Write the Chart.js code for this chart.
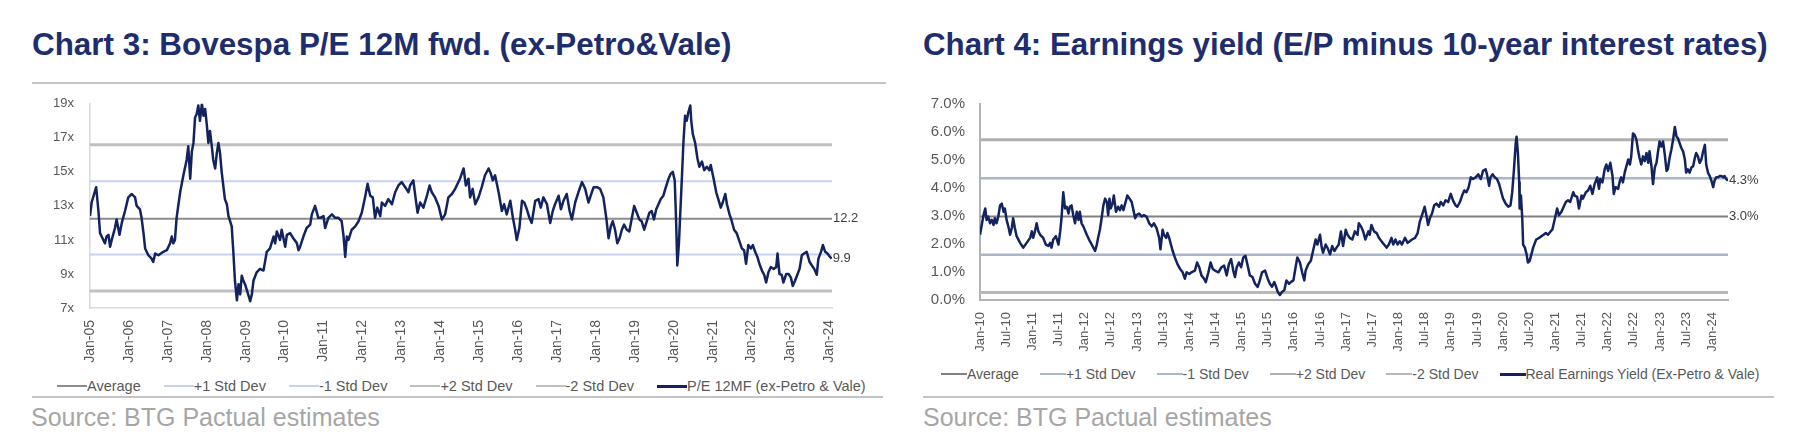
<!DOCTYPE html>
<html>
<head>
<meta charset="utf-8">
<title>Bovespa P/E and earnings yield</title>
<script src="https://cdn.jsdelivr.net/npm/chart.js@4.4.1/dist/chart.umd.min.js"></script>
<style>
  html, body { margin: 0; padding: 0; background: #fff; }
  body { width: 1806px; height: 444px; position: relative; overflow: hidden; font-family: "Liberation Sans", Arial, sans-serif; }
  .title { position: absolute; top: 29px; line-height: 31px; font-weight: bold; color: #1e2d6e; white-space: nowrap; }
  .rule { position: absolute; height: 2px; background: #c4c4c4; }
  .source { position: absolute; top: 405px; font-size: 25px; line-height: 25px; color: #a6a6a6; white-space: nowrap; }
  .box { position: absolute; }
  .legend { position: absolute; display: flex; align-items: center; margin: 0; padding: 0; list-style: none; white-space: nowrap; color: #595959; line-height: 18px; }
  .legend li { display: flex; align-items: center; }
  .legend .swatch { display: inline-block; }
</style>
</head>
<body>
<div class="title" style="left:32px; font-size:31.4px">Chart 3: Bovespa P/E 12M fwd. (ex-Petro&amp;Vale)</div>
<div class="title" style="left:923px; font-size:31.3px">Chart 4: Earnings yield (E/P minus 10-year interest rates)</div>
<div class="rule" style="left:32px; top:82px; width:854px"></div>

<div class="box" style="left:32px; top:80px; width:854px; height:284px"><canvas id="peChart"></canvas></div>
<div class="box" style="left:923px; top:80px; width:851px; height:272px"><canvas id="eyChart"></canvas></div>

<ul class="legend" id="peLegend" style="left:57px; top:377px; font-size:14.5px"></ul>
<ul class="legend" id="eyLegend" style="left:941px; top:365px; font-size:14px"></ul>

<div class="rule" style="left:32px; top:396px; width:851px"></div>
<div class="rule" style="left:923px; top:396px; width:851px"></div>
<div class="source" style="left:31px">Source: BTG Pactual estimates</div>
<div class="source" style="left:923px">Source: BTG Pactual estimates</div>

<script>
// Chart 3 - P/E 12M fwd, x = months since Jan-05
const peMonths = [
  0, 0.5, 1.9, 2.6, 3.1, 3.6, 4.6, 5.1, 5.7, 6.2,
  6.7, 7.7, 8.2, 9.1, 9.8, 10.8, 11.8, 12.9, 13.9, 14.4,
  15.4, 15.9, 16.5, 17.0, 18.0, 19.0, 19.5, 20.1, 21.1, 22.6,
  23.7, 24.7, 25.2, 25.7, 26.2, 26.7, 27.8, 28.8, 29.8, 30.3,
  30.9, 31.4, 31.9, 32.4, 32.9, 33.4, 33.9, 34.5, 35.0, 35.5,
  36.0, 36.5, 37.0, 37.5, 38.0, 38.6, 39.1, 39.6, 40.1, 40.6,
  41.1, 41.6, 42.2, 42.7, 43.2, 43.7, 44.2, 44.7, 45.3, 45.8,
  46.3, 46.8, 47.3, 47.8, 48.3, 49.4, 49.9, 50.4, 51.4, 52.4,
  53.5, 54.5, 55.5, 56.6, 57.1, 57.6, 58.6, 59.1, 60.2, 60.7,
  61.7, 62.7, 63.8, 64.3, 64.8, 65.8, 66.8, 67.9, 68.4, 69.4, 70.4,
  71.0, 72.0, 72.5, 73.5, 74.6, 75.6, 76.6, 77.6, 78.2, 78.7,
  79.2, 79.7, 80.7, 81.8, 82.8, 83.8, 84.8, 85.6, 86.4, 87.2,
  87.9, 88.6, 89.5, 90.0, 91.0, 92.0, 93.1, 94.1, 95.1, 96.1,
  97.2, 98.2, 98.7, 99.7, 100.3, 101.0, 101.8, 102.8, 103.9, 104.7,
  105.4, 106.4, 107.5, 108.5, 109.5, 110.5, 111.6, 112.6, 113.6, 114.1,
  115.2, 115.9, 116.7, 117.2, 118.0, 118.8, 119.8, 120.8, 121.8, 122.9,
  123.6, 124.2, 124.9, 126.0, 127.0, 127.7, 128.5, 129.6, 130.4, 131.1,
  131.6, 132.4, 133.2, 133.9, 134.7, 135.5, 136.2, 137.3, 138.3, 139.0,
  139.8, 140.9, 141.9, 142.7, 143.4, 144.5, 145.2, 146.0, 147.0, 147.9,
  148.6, 149.6, 150.6, 151.7, 152.7, 153.7, 154.4, 155.3, 156.3,
  157.3, 158.3, 159.2, 159.9, 160.6, 161.2, 161.9, 162.6, 163.3, 164.0,
  164.7, 165.5, 166.3, 167.1, 167.8, 168.6, 169.4, 170.1, 170.9, 171.7,
  172.5, 173.2, 173.9, 174.6, 175.3, 176.0, 176.8, 177.4, 178.4, 179.1,
  179.7, 180.3, 180.7, 181.1, 181.6, 182.0, 182.5, 183.0, 183.5, 184.0,
  184.5, 185.1, 185.4, 185.9, 186.6, 187.3, 187.9, 188.7, 189.4, 190.2,
  191.0, 191.4, 192.3, 193.1, 193.9, 194.5, 195.1, 195.9, 196.4, 197.2,
  197.9, 198.6, 199.4, 200.3, 201.0, 201.7, 202.3, 203.0, 203.8, 204.4,
  205.1, 205.8, 206.4, 207.2, 207.9, 208.5, 209.2, 209.9, 210.8, 211.6,
  212.0, 212.6, 213.3, 213.8, 214.7, 215.4, 216.1, 216.7, 217.4, 218.2,
  218.8, 219.5, 220.2, 221.0, 221.9, 222.6, 223.3, 224.1, 224.6, 225.4,
  226.0, 226.7, 227.4, 228.2, 228.7
];
const peValues = [
  12.4, 13.2, 14.1, 12.7, 11.4, 11.2, 10.8, 11.2, 11.3, 10.6,
  11.0, 11.7, 12.2, 11.3, 12.0, 12.7, 13.5, 13.7, 13.5, 13.0,
  12.8, 12.3, 11.4, 10.5, 10.1, 9.9, 9.7, 10.2, 10.1, 10.3,
  10.4, 10.8, 11.2, 10.8, 11.0, 12.3, 13.8, 14.8, 15.7, 16.5,
  14.6, 16.2, 16.7, 18.2, 18.4, 18.9, 18.0, 19.0, 18.3, 18.7,
  17.8, 16.7, 17.4, 16.6, 15.7, 15.2, 16.1, 16.7, 16.1, 15.0,
  14.2, 13.4, 13.1, 12.4, 12.1, 11.8, 10.3, 8.6, 7.45, 8.4,
  7.8, 8.9, 8.6, 8.4, 8.1, 7.4, 7.8, 8.6, 9.1, 9.3,
  9.2, 10.3, 10.5, 11.2, 10.8, 11.5, 11.0, 11.6, 10.6, 11.3,
  11.4, 11.1, 10.8, 10.4, 10.6, 11.2, 11.7, 11.9, 12.5, 13.0, 12.3,
  12.3, 12.4, 11.7, 12.3, 12.5, 12.3, 12.3, 12.1, 11.2, 10.0,
  11.2, 11.0, 11.6, 11.8, 12.1, 12.6, 13.5, 14.3, 13.6, 13.5,
  12.3, 12.9, 12.4, 13.2, 13.0, 13.4, 13.1, 13.8, 14.2, 14.4,
  14.1, 13.8, 14.2, 14.5, 13.6, 12.6, 13.2, 12.9, 13.6, 14.2,
  13.8, 13.5, 13.0, 12.2, 12.5, 13.5, 13.7, 14.0, 14.4, 14.6,
  15.2, 14.2, 14.6, 13.5, 14.0, 13.1, 13.5, 14.1, 14.8, 15.2,
  14.9, 14.5, 14.8, 13.8, 12.7, 13.1, 12.5, 13.3, 12.3, 11.6,
  11.0, 11.7, 13.3, 13.2, 12.8, 12.3, 12.0, 13.3, 13.4, 12.9,
  13.5, 13.1, 12.0, 12.7, 13.1, 13.6, 12.8, 13.3, 13.7, 12.7,
  12.2, 13.2, 13.8, 14.4, 14.0, 13.2, 13.6, 14.1, 14.1,
  14.0, 13.5, 12.3, 11.1, 11.8, 12.1, 11.6, 10.8, 11.1, 11.6,
  11.9, 11.6, 11.5, 12.3, 13.0, 12.6, 12.2, 12.1, 11.6, 12.1,
  12.6, 12.7, 12.2, 12.8, 13.1, 13.4, 13.6, 14.0, 14.6, 14.9,
  15.0, 14.5, 12.3, 9.5, 10.8, 12.5, 14.6, 16.8, 18.3, 18.0,
  18.5, 18.9, 18.0, 17.2, 16.7, 15.8, 15.3, 15.6, 15.1, 15.3,
  15.1, 15.4, 14.6, 13.8, 13.3, 12.9, 13.2, 13.7, 13.1, 12.5,
  12.1, 11.6, 11.4, 10.9, 10.5, 10.4, 9.6, 10.7, 10.5, 10.7,
  10.3, 10.0, 9.6, 9.2, 8.95, 8.5, 9.1, 9.4, 9.3, 9.4,
  10.2, 9.0, 8.95, 8.5, 9.0, 9.0, 8.8, 8.3, 8.6, 9.0,
  9.3, 10.1, 10.2, 10.3, 9.7, 9.5, 9.3, 8.95, 9.9, 10.3,
  10.7, 10.3, 10.2, 10.0, 9.9
];
const peTicks = ['Jan-05', 'Jan-06', 'Jan-07', 'Jan-08', 'Jan-09', 'Jan-10', 'Jan-11', 'Jan-12', 'Jan-13', 'Jan-14',
  'Jan-15', 'Jan-16', 'Jan-17', 'Jan-18', 'Jan-19', 'Jan-20', 'Jan-21', 'Jan-22', 'Jan-23', 'Jan-24'];
const peYLabels = ['7x', '9x', '11x', '13x', '15x', '17x', '19x'];
// Average, +1, -1, +2, -2 std dev
const peBands = [12.25, 14.45, 10.15, 16.6, 8.0];
const peAvgText = '12.2';
const peEnd = 228.8;

// Chart 4 - real earnings yield, x = months since Jan-10
const eyMonths = [
  0.0, 0.4, 0.8, 1.2, 1.5, 1.9, 2.3, 2.7, 3.1, 3.4,
  3.8, 4.2, 4.6, 5.0, 5.4, 5.7, 6.1, 6.5, 6.9, 7.3,
  7.6, 8.0, 8.4, 9.2, 9.9, 10.7, 11.5, 11.9, 12.2, 12.6,
  13.0, 13.4, 13.8, 14.5, 15.1, 15.7, 16.1, 16.4, 16.8, 17.4,
  18.0, 18.4, 18.7, 19.1, 19.5, 19.9, 20.3, 20.6, 21.0, 21.4,
  21.8, 22.2, 22.6, 22.9, 23.3, 23.7, 24.5, 25.2, 25.8, 26.4,
  26.8, 27.1, 27.5, 27.9, 28.3, 28.7, 29.1, 29.4, 29.7, 30.0,
  30.4, 30.7, 31.2, 31.7, 32.1, 32.5, 32.9, 33.3, 33.8, 34.3,
  34.8, 35.2, 35.6, 35.9, 36.5, 37.1, 37.6, 38.2, 38.8, 39.4,
  39.9, 40.5, 41.1, 41.4, 41.9, 42.2, 42.7, 43.0, 43.4, 43.7,
  44.2, 44.7, 45.3, 45.9, 46.5, 47.0, 47.4, 48.0, 48.5, 49.3,
  49.8, 50.3, 50.8, 51.4, 51.8, 52.4, 52.9, 53.4,
  53.9, 54.7, 55.4, 56.0, 56.6, 57.1, 57.6, 58.1, 58.5, 58.9,
  59.4, 59.9, 60.4, 60.9, 61.4, 61.9, 62.5, 63.1, 63.7, 64.2,
  64.7, 65.4, 66.0, 66.5, 67.0, 67.5, 67.8, 68.3, 68.8, 69.3,
  69.8, 70.3, 70.9, 71.3, 71.9, 72.4, 72.8, 73.4, 73.9, 74.4,
  74.7, 75.3, 75.9, 76.4, 77.0, 77.4, 78.0, 78.4, 78.7, 79.3,
  79.7, 80.3, 80.8, 81.3, 81.8, 82.3, 82.8, 83.3, 83.9, 84.3,
  84.8, 85.4, 86.0, 86.6, 86.9, 87.4, 87.9, 88.4, 89.1, 89.4,
  89.8, 90.4, 91.0, 91.5, 92.1, 92.7, 93.3, 93.8, 94.4, 94.8,
  95.3, 95.8, 96.3, 96.8, 97.5, 98.1, 98.6, 99.1, 99.8, 100.4,
  100.9, 101.4, 102.0, 102.4, 102.8, 103.2, 103.7, 104.2, 104.7, 105.3,
  105.7, 106.3, 106.8, 107.4, 108.0, 108.5, 109.1, 109.5, 110.1, 110.6,
  111.1, 111.6, 112.1, 112.6, 113.1, 113.7, 114.3, 114.9, 115.4,
  116.0, 116.3, 116.8, 117.1, 117.6, 118.1, 118.6, 119.1, 119.6, 120.0,
  120.6, 121.2, 121.7, 122.1, 122.5, 122.9, 123.1, 123.4, 123.7, 123.8,
  124.1, 124.4, 124.6, 125.0, 125.4, 125.7, 126.1, 126.5, 126.9, 127.3,
  127.6, 128.3, 128.8, 129.3, 129.8, 130.3, 130.9, 131.3, 131.9, 132.4,
  132.8, 133.4, 133.9, 134.4, 134.9, 135.4, 136.1, 136.4, 137.0, 137.4,
  138.0, 138.3, 139.0, 139.5, 140.0, 140.5, 141.0, 141.6, 142.0, 142.3,
  142.8, 143.3, 143.7, 144.1, 144.6, 145.1, 145.4, 145.8, 146.4, 146.8,
  147.1, 147.5, 147.9, 148.3, 148.7, 149.1, 149.4, 149.8, 150.2, 150.6,
  151.0, 151.3, 151.7, 152.1, 152.5, 152.9, 153.3, 153.6, 154.0, 154.4,
  154.8, 155.2, 155.5, 155.9, 156.3, 156.7, 157.1, 157.5, 157.8, 158.2,
  158.6, 159.0, 159.4, 159.8, 160.1, 160.5, 160.9, 161.3, 161.7, 162.0,
  162.4, 162.8, 163.2, 163.6, 164.0, 164.3, 164.7, 165.1, 165.5, 165.9,
  166.3, 166.6, 167.0, 167.4, 167.8, 168.2, 168.5, 168.9, 169.3, 169.7,
  170.1, 170.5, 170.8, 171.2, 171.6
];
const eyValues = [
  2.33, 2.68, 3.03, 3.27, 2.86, 2.98, 2.74, 2.86, 2.68, 2.92,
  2.74, 2.98, 3.38, 3.44, 3.15, 3.27, 2.86, 2.63, 2.33, 2.57,
  2.92, 2.57, 2.28, 2.04, 1.87, 2.04, 2.22, 2.45, 2.22, 2.45,
  2.74, 2.45, 2.33, 2.22, 1.98, 1.93, 2.04, 1.87, 2.16, 2.28,
  1.98, 2.45, 2.92, 3.85, 3.27, 3.33, 3.09, 3.33, 3.38, 3.03,
  2.74, 3.15, 2.86, 3.15, 2.74, 2.63, 2.33, 2.10, 1.93, 1.75,
  1.98, 2.22, 2.51, 2.92, 3.38, 3.62, 3.50, 3.03, 3.62, 3.27,
  3.44, 3.73, 3.15, 3.33, 3.21, 3.38, 3.21, 3.44, 3.73, 3.62,
  3.50, 3.21, 2.92, 3.03, 3.09, 2.98, 3.03, 2.98, 2.74, 2.63,
  2.74, 2.57, 2.22, 1.81, 2.51, 2.33, 2.22, 2.39, 2.22, 2.04,
  1.75, 1.52, 1.28, 1.11, 0.99, 0.76, 0.99, 0.93, 0.99, 1.05,
  1.34, 1.17, 0.88, 0.76, 0.64, 0.99, 1.34, 1.11,
  1.05, 0.99, 1.17, 1.23, 0.88, 1.28, 1.46, 1.05, 0.82, 1.17,
  1.34, 1.17, 1.52, 1.58, 1.23, 0.88, 0.82, 0.58, 0.47, 0.70,
  0.99, 1.05, 0.76, 0.58, 0.47, 0.64, 0.53, 0.29, 0.18, 0.29,
  0.35, 0.70, 0.58, 0.64, 0.70, 1.17, 1.52, 1.34, 0.99, 0.70,
  1.05, 1.28, 1.40, 1.75, 2.16, 1.98, 2.33, 1.87, 1.69, 1.98,
  1.87, 1.63, 1.93, 1.75, 1.87, 1.98, 2.45, 1.93, 2.51, 2.33,
  2.22, 2.16, 2.45, 2.33, 2.74, 2.63, 2.45, 2.16, 2.45, 2.33,
  2.68, 2.45, 2.39, 2.22, 2.10, 1.98, 1.87, 1.98, 2.22, 1.98,
  2.16, 1.98, 2.10, 1.98, 2.22, 2.04, 2.10, 2.16, 2.22, 2.39,
  2.80, 3.03, 3.33, 3.03, 2.68, 2.92, 3.09, 3.38, 3.44, 3.33,
  3.50, 3.38, 3.56, 3.50, 3.79, 3.56, 3.38, 3.33, 3.50, 3.73,
  3.91, 3.85, 4.03, 4.38, 4.32, 4.38, 4.49, 4.32, 4.61,
  4.67, 4.49, 4.08, 4.38, 4.49, 4.38, 4.32, 4.14, 3.85, 3.62,
  3.44, 3.33, 3.38, 3.85, 4.67, 5.60, 5.83, 5.25, 4.20, 3.27,
  3.73, 2.92, 1.98, 1.87, 1.63, 1.34, 1.40, 1.63, 1.87, 2.04,
  2.16, 2.22, 2.28, 2.33, 2.39, 2.33, 2.45, 2.51, 2.92, 3.27,
  3.03, 3.15, 3.33, 3.50, 3.56, 3.50, 3.85, 3.73, 3.68, 3.27,
  3.73, 3.62, 3.85, 3.91, 4.08, 3.79, 4.14, 4.38, 3.97, 4.32,
  4.20, 4.67, 4.84, 4.61, 4.90, 4.43, 3.79, 4.03, 3.97, 4.26,
  4.38, 4.20, 4.55, 4.78, 5.02, 4.84, 5.13, 5.95, 5.89, 5.72,
  5.31, 5.08, 4.84, 5.13, 4.96, 5.25, 4.90, 5.31, 4.84, 4.14,
  4.73, 4.90, 5.25, 5.66, 5.48, 5.66, 5.19, 4.61, 4.67, 5.08,
  5.37, 5.72, 6.18, 5.83, 5.78, 5.60, 5.43, 5.31, 5.02, 4.55,
  4.67, 4.55, 4.73, 4.78, 5.08, 5.25, 5.13, 4.90, 5.02, 5.31,
  5.54, 4.84, 4.55, 4.43, 4.26, 4.03, 4.26, 4.38, 4.38, 4.43,
  4.43, 4.38, 4.43, 4.32, 4.26
];
const eyTicks = ['Jan-10', 'Jul-10', 'Jan-11', 'Jul-11', 'Jan-12', 'Jul-12', 'Jan-13', 'Jul-13', 'Jan-14', 'Jul-14',
  'Jan-15', 'Jul-15', 'Jan-16', 'Jul-16', 'Jan-17', 'Jul-17', 'Jan-18', 'Jul-18', 'Jan-19', 'Jul-19',
  'Jan-20', 'Jul-20', 'Jan-21', 'Jul-21', 'Jan-22', 'Jul-22', 'Jan-23', 'Jul-23', 'Jan-24'];
const eyYLabels = ['0.0%', '1.0%', '2.0%', '3.0%', '4.0%', '5.0%', '6.0%', '7.0%'];
const eyBands = [2.98, 4.35, 1.62, 5.72, 0.27];
const eyEnd = 171.6;

const bandNames = ['Average', '+1 Std Dev', '-1 Std Dev', '+2 Std Dev', '-2 Std Dev'];
const peBandColors = ['#8c8c8c', '#c5d3ee', '#c5d3ee', '#c0c0c0', '#c0c0c0'];
const peBandWidths = [2, 2, 2, 3, 3];
const eyBandColors = ['#808080', '#aab6ca', '#aab6ca', '#b0b0b0', '#b8b8b8'];
const eyBandWidths = [2, 2.5, 2.5, 3, 3];
const navy = '#13235f';
const tickColor = '#595959';

// labels drawn right after the last point of a dataset
const endLabels = {
    id: 'endLabels',
    afterDatasetsDraw(chart) {
        const ctx = chart.ctx;
        chart.data.datasets.forEach((ds, i) => {
            if (!ds.endLabel) return;
            const pts = chart.getDatasetMeta(i).data;
            const p = pts[pts.length - 1];
            ctx.save();
            ctx.font = '13px "Liberation Sans", Arial, sans-serif';
            ctx.fillStyle = '#404040';
            ctx.textBaseline = 'middle';
            ctx.fillText(ds.endLabel, p.x + 1, p.y);
            ctx.restore();
        });
    }
};

// legend rendered as html list
const htmlLegend = {
    id: 'htmlLegend',
    afterUpdate(chart, args, opts) {
        const list = document.getElementById(opts.containerID);
        list.innerHTML = '';
        const items = chart.options.plugins.legend.labels.generateLabels(chart)
            .sort((a, b) => a.datasetIndex - b.datasetIndex);
        items.forEach(item => {
            const li = document.createElement('li');
            li.style.marginRight = opts.gap + 'px';
            const sw = document.createElement('span');
            sw.className = 'swatch';
            sw.style.width = opts.swatch + 'px';
            sw.style.height = (item.lineWidth > 2.4 && item.datasetIndex === 5 ? 3 : 1.5) + 'px';
            sw.style.background = item.strokeStyle;
            const tx = document.createElement('span');
            tx.textContent = item.text;
            li.append(sw, tx);
            list.appendChild(li);
        });
    }
};

function bandSets(bands, colors, widths, end) {
    return bands.map((v, i) => ({
        label: bandNames[i],
        data: [{ x: 0, y: v }, { x: end, y: v }],
        borderColor: colors[i],
        backgroundColor: colors[i],
        borderWidth: widths[i],
        order: 1
    }));
}

function buildChart(id, cfg) {
    const sets = bandSets(cfg.bands, cfg.colors, cfg.widths, cfg.end);
    sets[0].endLabel = cfg.avgText;
    sets.push({
        label: cfg.name,
        data: cfg.months.map((m, i) => ({ x: m, y: cfg.values[i] })),
        borderColor: navy,
        backgroundColor: navy,
        borderWidth: 2.5,
        order: 0,
        endLabel: cfg.lastText
    });
    return new Chart(document.getElementById(id), {
        type: 'line',
        data: { datasets: sets },
        plugins: [endLabels, htmlLegend],
        options: {
            responsive: true,
            maintainAspectRatio: false,
            animation: false,
            events: [],
            elements: {
                point: { radius: 0 },
                line: { tension: 0, borderJoinStyle: 'round', fill: false }
            },
            layout: { padding: { top: cfg.padTop, right: cfg.padRight, left: 0, bottom: 0 } },
            plugins: {
                legend: { display: false },
                tooltip: { enabled: false },
                htmlLegend: { containerID: cfg.legendID, gap: cfg.legendGap, swatch: cfg.swatch }
            },
            scales: {
                x: {
                    type: 'linear',
                    min: 0,
                    max: cfg.end,
                    afterBuildTicks: s => { s.ticks = cfg.ticks.map((t, i) => ({ value: i * cfg.step })); },
                    afterFit: s => { s.height = cfg.xHeight; },
                    grid: { display: false, drawTicks: false },
                    border: { display: true, color: cfg.axisColor, width: cfg.axisWidth },
                    ticks: {
                        autoSkip: false,
                        minRotation: 90,
                        maxRotation: 90,
                        padding: 12,
                        color: tickColor,
                        font: { family: '"Liberation Sans", Arial, sans-serif', size: cfg.xFont },
                        callback: (v, i) => cfg.ticks[i]
                    }
                },
                y: {
                    min: cfg.yMin,
                    max: cfg.yMax,
                    afterFit: s => { s.width = cfg.yWidth; },
                    grid: { display: false, drawTicks: false },
                    border: { display: true, color: cfg.axisColor, width: cfg.axisWidth },
                    ticks: {
                        stepSize: cfg.yStep,
                        padding: cfg.yPad,
                        color: tickColor,
                        font: { family: '"Liberation Sans", Arial, sans-serif', size: cfg.yFont },
                        callback: (v, i) => cfg.yLabels[i]
                    }
                }
            }
        }
    });
}

buildChart('peChart', {
    name: 'P/E 12MF (ex-Petro & Vale)',
    months: peMonths, values: peValues, ticks: peTicks, step: 12, end: peEnd,
    bands: peBands, colors: peBandColors, widths: peBandWidths,
    avgText: peAvgText, lastText: peValues[peValues.length - 1].toFixed(1),
    yMin: 7, yMax: 19, yStep: 2, yLabels: peYLabels,
    padTop: 15, padRight: 54, xHeight: 56, yWidth: 58, yPad: 16,
    xFont: 14, yFont: 13, axisColor: '#d9d9d9', axisWidth: 1.5,
    legendID: 'peLegend', legendGap: 23, swatch: 30
});

buildChart('eyChart', {
    name: 'Real Earnings Yield (Ex-Petro & Vale)',
    months: eyMonths, values: eyValues, ticks: eyTicks, step: 6, end: eyEnd,
    bands: eyBands, colors: eyBandColors, widths: eyBandWidths,
    avgText: eyBands[0].toFixed(1) + '%', lastText: eyValues[eyValues.length - 1].toFixed(1) + '%',
    yMin: 0, yMax: 7, yStep: 1, yLabels: eyYLabels,
    padTop: 20, padRight: 46, xHeight: 52, yWidth: 57, yPad: 15,
    xFont: 13, yFont: 15, axisColor: '#b3b3b3', axisWidth: 2,
    legendID: 'eyLegend', legendGap: 21, swatch: 26
});
</script>
</body>
</html>
